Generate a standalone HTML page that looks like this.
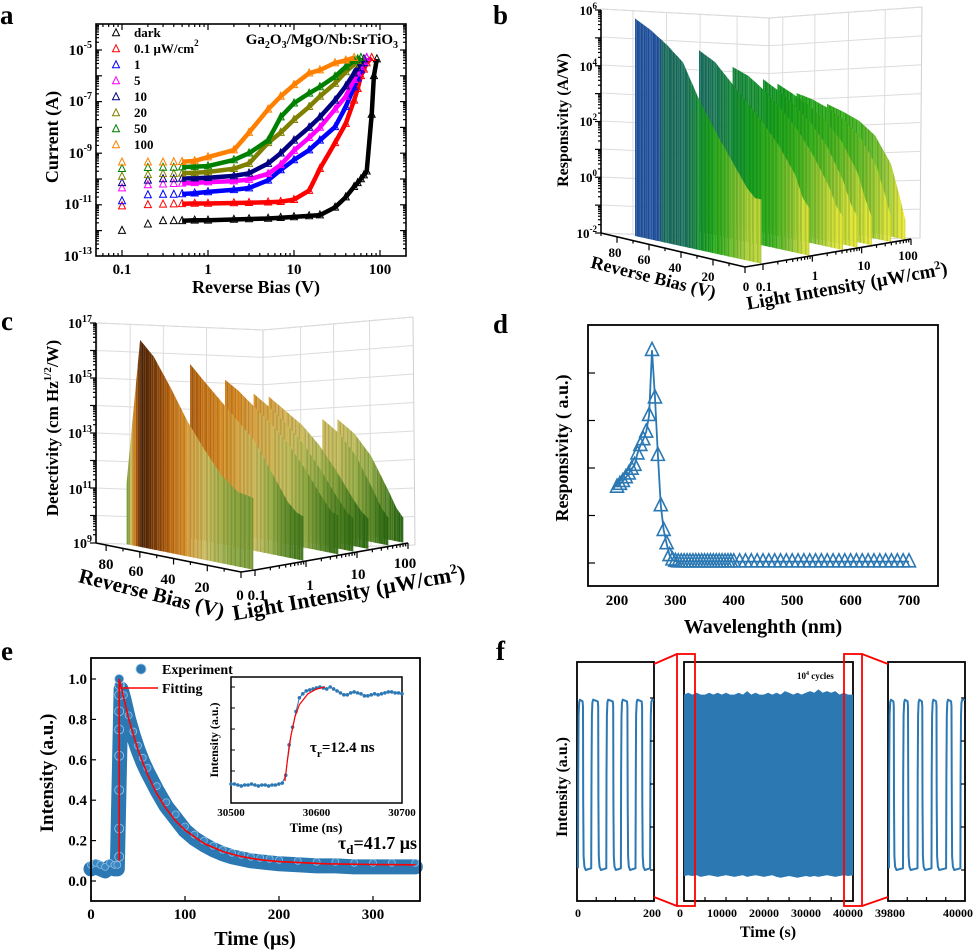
<!DOCTYPE html>
<html><head><meta charset="utf-8"><style>
html,body{margin:0;padding:0;background:#fff;}
svg{display:block;font-family:"Liberation Serif",serif;font-weight:bold;}
</style></head><body>
<svg id="fig" xmlns="http://www.w3.org/2000/svg" width="980" height="951" viewBox="0 0 980 951">
<rect x="0" y="0" width="980" height="951" fill="#fff"/>
<!-- Panel a -->
<g>
<text x="0" y="24" font-size="27">a</text>
<rect x="96" y="24" width="310" height="232" fill="none" stroke="#000" stroke-width="1.6"/>
<g font-size="15" text-anchor="end">
<text x="92" y="55">10<tspan dy="-7" font-size="10">-5</tspan></text>
<text x="92" y="106">10<tspan dy="-7" font-size="10">-7</tspan></text>
<text x="92" y="158">10<tspan dy="-7" font-size="10">-9</tspan></text>
<text x="92" y="209">10<tspan dy="-7" font-size="10">-11</tspan></text>
<text x="92" y="261">10<tspan dy="-7" font-size="10">-13</tspan></text>
</g>
<g font-size="15" text-anchor="middle">
<text x="122" y="274">0.1</text><text x="208" y="274">1</text><text x="294" y="274">10</text><text x="380" y="274">100</text>
</g>
<text transform="translate(58,137) rotate(-90)" text-anchor="middle" font-size="18">Current (A)</text>
<text x="256" y="293" text-anchor="middle" font-size="18">Reverse Bias (V)</text>
<text x="398" y="44" text-anchor="end" font-size="15">Ga<tspan dy="4" font-size="10">2</tspan><tspan dy="-4">O</tspan><tspan dy="4" font-size="10">3</tspan><tspan dy="-4">/MgO/Nb:SrTiO</tspan><tspan dy="4" font-size="10">3</tspan></text>
<g id="legendA" font-size="13"></g>
<g id="plotA"></g>
</g>
<!-- Panel b -->
<g>
<text x="493" y="24" font-size="27">b</text>
<g id="gridB"></g>
<g id="plotB"></g>
<g font-size="13" text-anchor="end">
<text x="597" y="15">10<tspan dy="-6" font-size="9">6</tspan></text>
<text x="597" y="71">10<tspan dy="-6" font-size="9">4</tspan></text>
<text x="597" y="126">10<tspan dy="-6" font-size="9">2</tspan></text>
<text x="597" y="182">10<tspan dy="-6" font-size="9">0</tspan></text>
<text x="597" y="238">10<tspan dy="-6" font-size="9">-2</tspan></text>
</g>
<text transform="translate(568,120) rotate(-90)" text-anchor="middle" font-size="16">Responsivity (A/W)</text>
<g font-size="13" text-anchor="middle">
<text x="615" y="257">80</text><text x="644" y="264">60</text><text x="675" y="272">40</text><text x="708" y="281">20</text><text x="746" y="291">0</text>
</g>
<g font-size="13" text-anchor="middle">
<text x="764" y="291">0.1</text><text x="815" y="280">1</text><text x="864" y="270">10</text><text x="908" y="260">100</text>
</g>
<text transform="translate(652,283) rotate(14)" text-anchor="middle" font-size="18">Reverse Bias (V)</text>
<text transform="translate(848,292) rotate(-10)" text-anchor="middle" font-size="19">Light Intensity (μW/cm<tspan dy="-7" font-size="12">2</tspan><tspan dy="7">)</tspan></text>
</g>
<!-- Panel c -->
<g>
<text x="1" y="330" font-size="27">c</text>
<g id="gridC"></g>
<g id="plotC"></g>
<g font-size="14" text-anchor="end">
<text x="92" y="328">10<tspan dy="-6" font-size="10">17</tspan></text>
<text x="92" y="383">10<tspan dy="-6" font-size="10">15</tspan></text>
<text x="92" y="438">10<tspan dy="-6" font-size="10">13</tspan></text>
<text x="92" y="494">10<tspan dy="-6" font-size="10">11</tspan></text>
<text x="92" y="548">10<tspan dy="-6" font-size="10">9</tspan></text>
</g>
<text transform="translate(58,428) rotate(-90)" text-anchor="middle" font-size="17">Detectivity (cm Hz<tspan dy="-7" font-size="11">1/2</tspan><tspan dy="7">/W)</tspan></text>
<g font-size="15" text-anchor="middle">
<text x="106" y="569">80</text><text x="136" y="576">60</text><text x="168" y="584">40</text><text x="202" y="592">20</text><text x="240" y="600">0</text>
</g>
<g font-size="15" text-anchor="middle">
<text x="257" y="600">0.1</text><text x="310" y="590">1</text><text x="358" y="579">10</text><text x="405" y="568">100</text>
</g>
<text transform="translate(150,600) rotate(14)" text-anchor="middle" font-size="21">Reverse Bias (V)</text>
<text transform="translate(350,600) rotate(-10)" text-anchor="middle" font-size="22">Light Intensity (μW/cm<tspan dy="-8" font-size="14">2</tspan><tspan dy="8">)</tspan></text>
</g>
<!-- Panel d -->
<g>
<text x="493" y="333" font-size="27">d</text>
<rect x="588" y="325" width="350" height="261" fill="none" stroke="#000" stroke-width="1.8"/>
<g id="plotD"></g>
<text transform="translate(568,448) rotate(-90)" text-anchor="middle" font-size="18">Responsivity ( a.u.)</text>
<text x="763" y="633" text-anchor="middle" font-size="20">Wavelenghth (nm)</text>
</g>
<!-- Panel e -->
<g>
<text x="1" y="660" font-size="27">e</text>
<g id="plotE"></g>
<rect x="91" y="658" width="329" height="243" fill="none" stroke="#000" stroke-width="1.8"/>
<text transform="translate(53,773) rotate(-90)" text-anchor="middle" font-size="19">Intensity (a.u.)</text>
<text x="255" y="945" text-anchor="middle" font-size="20">Time (μs)</text>
<text x="162" y="674" font-size="14">Experiment</text>
<text x="162" y="693" font-size="14">Fitting</text>
<text x="338" y="849" font-size="18">τ<tspan dy="5" font-size="13">d</tspan><tspan dy="-5">=41.7 μs</tspan></text>
<text transform="translate(218,740) rotate(-90)" text-anchor="middle" font-size="12">Intensity (a.u.)</text>
<text x="316" y="832" text-anchor="middle" font-size="13">Time (ns)</text>
<text x="310" y="752" font-size="15">τ<tspan dy="5" font-size="11">r</tspan><tspan dy="-5">=12.4 ns</tspan></text>
</g>
<!-- Panel f -->
<g>
<text x="496" y="660" font-size="27">f</text>
<g id="plotF"></g>
<text transform="translate(567,787) rotate(-90)" text-anchor="middle" font-size="16">Intensity (a.u.)</text>
<text x="768" y="937" text-anchor="middle" font-size="16">Time (s)</text>
<text x="797" y="679" font-size="9">10<tspan dy="-4" font-size="6">4</tspan><tspan dy="4"> cycles</tspan></text>
<g font-size="12" text-anchor="middle">
<text x="578" y="917">0</text><text x="652" y="917">200</text><text x="680" y="917">0</text>
<text x="722" y="917">10000</text><text x="764" y="917">20000</text><text x="806" y="917">30000</text><text x="848" y="917">40000</text>
<text x="890" y="917">39800</text><text x="958" y="917">40000</text>
</g>
</g>
</svg>
<script>
// ---------- Panel a data ----------
const aVolts=[0.1,0.2,0.3,0.4,0.5,0.7,1,2,3,5,7,10,15,20,30,40,50,55,60,65,70,80,85,92];
const aLabels=['dark','0.1','1','5','10','20','50','100'];
const aDark=[-12,-11.75,-11.62,-11.62,-11.62,-11.6,-11.6,-11.57,-11.55,-11.53,-11.5,-11.47,-11.43,-11.4,-11.1,-10.7,-10.3,-10.15,-10.0,-9.85,-9.7,-7.5,-6.0,-5.35];
const aI01=[-11.05,-11,-10.98,-10.97,-10.96,-10.95,-10.95,-10.93,-10.92,-10.9,-10.88,-10.8,-10.45,-9.6,-8.6,-7.85,-6.95,-6.5,-6.0,-5.75,-5.5,-5.3,null,null];
const aI1=[-10.85,-10.62,-10.6,-10.6,-10.58,-10.55,-10.5,-10.42,-10.35,-10.05,-9.65,-9.26,-8.88,-8.5,-7.98,-7.2,-6.43,-6.1,-5.78,-5.5,-5.3,null,null,null];
const aI5=[-10.35,-10.23,-10.2,-10.18,-10.17,-10.15,-10.12,-10.08,-10.02,-9.8,-9.45,-8.9,-8.4,-8.0,-7.3,-6.8,-6.15,-5.9,-5.65,-5.45,-5.3,null,null,null];
const aI10=[-10.15,-10.05,-10.0,-10.0,-9.98,-9.97,-9.95,-9.88,-9.78,-9.4,-9.0,-8.5,-8.0,-7.6,-6.95,-6.4,-5.9,-5.7,-5.5,-5.35,null,null,null,null];
const aI20=[-9.9,-9.84,-9.8,-9.8,-9.78,-9.76,-9.73,-9.6,-9.4,-8.6,-8.2,-7.7,-7.2,-6.8,-6.3,-5.85,-5.55,-5.42,-5.3,null,null,null,null,null];
const aI50=[-9.6,-9.56,-9.55,-9.55,-9.54,-9.52,-9.5,-9.26,-9.0,-8.5,-7.6,-7.06,-6.68,-6.43,-6.03,-5.65,-5.42,-5.35,-5.3,null,null,null,null,null];
const aI100=[-9.35,-9.35,-9.35,-9.34,-9.33,-9.3,-9.15,-8.88,-8.2,-7.3,-6.8,-6.35,-5.9,-5.78,-5.5,-5.4,-5.3,null,null,null,null,null,null,null];
const aSeries=[aDark,aI01,aI1,aI5,aI10,aI20,aI50,aI100];
const aColors=['#000000','#ff0000','#0000ff','#ff00ff','#000080','#808000','#008000','#ff8000'];

// ---------- Panel b data (log10 responsivity) ----------
const bBias=[80,70,60,50,40,30,20,10,5,1];
const bIntensity=[0.1,1,5,10,20,50,100];
const bR01=[5.8,5.5,5.1,4.6,3.4,2.4,1.5,0.6,0.3,0.3];
const bR1=[null,4.5,4.2,3.6,3.0,2.4,1.7,0.8,0.0,-0.3];
const bR5=[null,3.7,3.5,3.1,2.6,2.0,1.2,0.2,-0.5,-0.8];
const bR10=[null,null,3.3,3.0,2.6,2.1,1.4,0.3,-0.5,-0.9];
const bR20=[null,null,3.05,2.8,2.5,2.1,1.5,0.5,-0.4,-1.0];
const bR50=[null,null,2.6,2.5,2.3,2.0,1.5,0.6,-0.3,-1.1];
const bR100=[null,null,null,2.25,2.1,1.9,1.5,0.6,-0.4,-1.3];
const bSeries=[bR01,bR1,bR5,bR10,bR20,bR50,bR100];

// ---------- Panel c data (log10 detectivity) ----------
const cBias=[76,68,60,50,40,30,20,10,5,1];
const cIntensity=[0.1,1,5,10,20,50,100];
const cD01=[11.2,16.5,16.0,15.0,13.9,13.0,12.2,11.7,11.65,11.6];
const cD1=[null,15.3,14.8,14.2,13.6,13.0,12.0,11.0,10.7,10.6];
const cD5=[null,14.5,14.2,13.7,13.2,12.6,11.8,10.9,10.5,10.4];
const cD10=[null,null,14.0,13.6,13.1,12.5,11.7,10.8,10.4,10.2];
const cD20=[null,null,13.8,13.4,13.0,12.4,11.6,10.7,10.3,10.1];
const cD50=[null,null,null,null,13.1,12.7,12.0,10.9,10.3,10.0];
const cD100=[null,null,null,null,13.0,12.6,11.9,10.8,10.2,9.9];
const cSeries=[cD01,cD1,cD5,cD10,cD20,cD50,cD100];

// ---------- Panel d data ----------
const dWave=[200,205,210,215,220,225,230,235,240,245,250,255,260,265,270,275,280,285,290,295,300,305,310,315,320,325,330,335,340,345,350,355,360,365,370,375,380,385,390,395,400,410,420,430,440,450,460,470,480,490,500,510,520,530,540,550,560,570,580,590,600,610,620,630,640,650,660,670,680,690,700];
const dResp=[1.6,1.66,1.72,1.8,1.88,1.98,2.06,2.3,2.48,2.6,2.76,3.11,4.48,3.48,2.27,1.21,0.69,0.41,0.16,0.07,0.04,0.03,0.03,0.03,0.03,0.03,0.03,0.03,0.03,0.03,0.03,0.03,0.03,0.03,0.03,0.03,0.03,0.03,0.03,0.03,0.03,0.03,0.03,0.03,0.03,0.03,0.03,0.03,0.03,0.03,0.03,0.03,0.03,0.03,0.03,0.03,0.03,0.03,0.03,0.03,0.03,0.03,0.03,0.03,0.03,0.03,0.03,0.03,0.03,0.03,0.03];
const dTicks=[200,300,400,500,600,700];

// ---------- Panel e data ----------
const eTime=[0,5,10,15,20,25,28,32,35,40,45,50,55,60,70,80,90,100,110,120,130,140,150,160,170,180,190,200,220,240,260,280,300,320,345];
const eInt=[0.06,0.07,0.06,0.05,0.07,0.06,0.06,0.95,0.9,0.8,0.72,0.65,0.59,0.54,0.45,0.37,0.31,0.25,0.21,0.18,0.155,0.135,0.12,0.11,0.1,0.095,0.09,0.085,0.08,0.075,0.075,0.07,0.07,0.07,0.07];
const eRiseInt=[0.12,0.26,0.45,0.62,0.75,0.84,0.92,0.97,1.0];
const eRiseTime=30;
const eFitTime=[30,30,40,50,60,70,80,90,100,120,140,160,180,200,250,300,345];
const eFitInt=[0.1,1.0,0.804,0.649,0.528,0.432,0.358,0.298,0.252,0.186,0.146,0.121,0.105,0.096,0.085,0.0815,0.08];
const eTicksX=[0,100,200,300];
const eTicksY=[0,0.2,0.4,0.6,0.8,1.0];
const insetTime=[30500,30504,30508,30512,30516,30520,30524,30528,30532,30536,30540,30544,30548,30552,30556,30560,30564,30568,30572,30576,30580,30584,30588,30592,30596,30600,30604,30608,30612,30616,30620,30624,30628,30632,30636,30640,30644,30648,30652,30656,30660,30664,30668,30672,30676,30680,30684,30688,30692,30696,30700];
const insetInt=[0.01,0.01,0.0,-0.01,0.0,0.0,0.01,0.0,-0.01,0.0,0.0,-0.01,0.0,0.0,0.01,0.02,0.1,0.41,0.59,0.75,0.89,0.93,0.96,0.97,0.98,0.99,1.0,0.99,0.98,1.0,0.98,0.96,0.94,0.92,0.92,0.94,0.95,0.94,0.93,0.91,0.91,0.92,0.93,0.92,0.93,0.94,0.95,0.95,0.94,0.94,0.93];
const insetFitTime=[30563,30566,30570,30575,30580,30590,30600,30610];
const insetFitInt=[0.04,0.25,0.5,0.7,0.82,0.93,0.98,1.0];
const insetTicks=[30500,30600,30700];

// ---------- Panel f data ----------
const fLeftRise=[2.6,37,76,114,152,190];
const fLeftFall=[15.6,55,94,131,169];
const fRightRise=[39802.6,39839,39876.5,39913,39951,39988];
const fRightFall=[39815,39852,39889,39926,39965];
const fHigh=0.99, fLow=0.0;
const fMidTime=[0,1000,2000,3000,4000,5000,6000,7000,8000,9000,10000,11000,12000,13000,14000,15000,16000,17000,18000,19000,20000,21000,22000,23000,24000,25000,26000,27000,28000,29000,30000,31000,32000,33000,34000,35000,36000,37000,38000,39000,40200];
const fMidHi=[1.02,1.03,1.02,1.03,1.02,1.02,1.03,1.02,1.03,1.02,1.03,1.02,1.02,1.03,1.02,1.04,1.02,1.03,1.02,1.02,1.03,1.02,1.03,1.02,1.04,1.03,1.02,1.03,1.02,1.03,1.04,1.03,1.05,1.03,1.04,1.03,1.04,1.02,1.03,1.02,1.02];
const fMidLo=[-0.035,-0.03,-0.035,-0.03,-0.04,-0.035,-0.03,-0.035,-0.04,-0.035,-0.03,-0.035,-0.04,-0.035,-0.03,-0.04,-0.035,-0.03,-0.035,-0.04,-0.035,-0.03,-0.04,-0.045,-0.04,-0.035,-0.04,-0.045,-0.04,-0.035,-0.04,-0.035,-0.04,-0.035,-0.03,-0.035,-0.04,-0.035,-0.03,-0.035,-0.03];

const NS='http://www.w3.org/2000/svg';
function mk(tag,attrs,parent){const e=document.createElementNS(NS,tag);for(const k in attrs)e.setAttribute(k,attrs[k]);parent.appendChild(e);return e;}
const $=id=>document.getElementById(id);
const L10=Math.log10;
function hex(h){return [parseInt(h.slice(1,3),16),parseInt(h.slice(3,5),16),parseInt(h.slice(5,7),16)];}
function cmap(stops,v,dim){
  let c;
  if(v>=stops[0][0]) c=hex(stops[0][1]);
  else if(v<=stops[stops.length-1][0]) c=hex(stops[stops.length-1][1]);
  else{for(let i=0;i<stops.length-1;i++){const a=stops[i],b=stops[i+1];if(v<=a[0]&&v>=b[0]){const t=(a[0]-v)/(a[0]-b[0]);const ca=hex(a[1]),cb=hex(b[1]);c=ca.map((x,k)=>x+(cb[k]-x)*t);break;}}}
  return 'rgb('+c.map(x=>Math.round(x*dim)).join(',')+')';
}

// ===== Panel a =====
(function(){
  const g=$('plotA');
  const xA=v=>122+86*(L10(v)+1);
  const yA=e=>50+(-5-e)*25.8;
  for(let dec=-2;dec<=2;dec++){for(let m=1;m<10;m++){const v=m*Math.pow(10,dec);const x=xA(v);if(x<97||x>405)continue;const len=m===1?6:3;
    const t1=mk('line',{x1:x,y1:256,x2:x,y2:256-len,stroke:'#000','stroke-width':1.2},g);
    
    
    const t2=mk('line',{x1:x,y1:24,x2:x,y2:24+len,stroke:'#000','stroke-width':1.2},g);
    
    }}
  for(let dec=-13;dec<=-5;dec++){for(let m=1;m<10;m++){const e=dec+L10(m);const y=yA(e);if(y<25||y>256)continue;const len=m===1?6:3;
    const t1=mk('line',{x1:96,y1:y,x2:96+len,y2:y,stroke:'#000','stroke-width':1.2},g);
    
    
    const t2=mk('line',{x1:406,y1:y,x2:406-len,y2:y,stroke:'#000','stroke-width':1.2},g);
    
    }}
  const tri=(x,y,s)=>`${x},${y-s*0.6} ${x-s/2},${y+s*0.4} ${x+s/2},${y+s*0.4}`;
  aSeries.forEach((ser,si)=>{
    const col=aColors[si];
    const pts=[];
    ser.forEach((e,i)=>{if(e!==null&&i>=4)pts.push(xA(aVolts[i]).toFixed(1)+','+yA(e).toFixed(1));});
    const pl=mk('polyline',{points:pts.join(' '),fill:'none',stroke:col,'stroke-width':4.5,'stroke-linejoin':'round'},g);
    
    
    ser.forEach((e,i)=>{if(e===null)return;
      const m=mk('polygon',{points:tri(xA(aVolts[i]),yA(e),7),fill:'none',stroke:col,'stroke-width':1},g);
      
      });
  });
  const lg=$('legendA');
  const labs=['dark','0.1  μW/cm','1','5','10','20','50','100'];
  labs.forEach((lb,i)=>{const y=33+i*16;
    const m=mk('polygon',{points:tri(116,y,7),fill:'none',stroke:aColors[i],'stroke-width':1},lg);
    
    
    const t=mk('text',{x:134,y:y+4,'xml:space':'preserve'},lg);
    
    
    t.textContent=lb;
    if(i===1){const sp=mk('tspan',{dy:-7,'font-size':9},t);sp.textContent='2';}
  });
})();

// ===== 3D waterfall helper =====
function waterfall(opts){
  const {g,biases,series,intens,X,Yb,H,stops}=opts;
  for(let si=series.length-1;si>=0;si--){
    const d=L10(intens[si])+1;const ser=series[si];
    for(let i=0;i<biases.length-1;i++){
      const v0=ser[i],v1=ser[i+1];if(v0===null||v1===null)continue;
      const b0=biases[i],b1=biases[i+1];
      let k=0;
      for(let b=b0;b>b1;b-=1.1){
        const bb=Math.max(b-1.1,b1);
        const va=v0+(v1-v0)*(b0-b)/(b0-b1), vb=v0+(v1-v0)*(b0-bb)/(b0-b1);
        const xa=X(b,d),xb=X(bb,d),ya=Yb(b,d),yb=Yb(bb,d);
        const p=mk('polygon',{points:`${xa.toFixed(1)},${ya.toFixed(1)} ${xa.toFixed(1)},${(ya-H(va)).toFixed(1)} ${xb.toFixed(1)},${(yb-H(vb)).toFixed(1)} ${xb.toFixed(1)},${yb.toFixed(1)}`,fill:cmap(stops,(va+vb)/2,(k++%2)?0.88:1)},g);
        
        
      }
    }
  }
}
function wall(g,pts,vert,horiz,name){
  const w=mk('polygon',{points:pts.map(p=>p.join(',')).join(' '),fill:'#fff',stroke:'#cfcfcf','stroke-width':1},g);
  
  
  const [TL,TR,BR,BL]=pts;
  vert.forEach(t=>{const l=mk('line',{x1:TL[0]+(TR[0]-TL[0])*t,y1:TL[1]+(TR[1]-TL[1])*t,x2:BL[0]+(BR[0]-BL[0])*t,y2:BL[1]+(BR[1]-BL[1])*t,stroke:'#dcdcdc','stroke-width':1},g);
    
    });
  horiz.forEach(t=>{const l=mk('line',{x1:TL[0]+(BL[0]-TL[0])*t,y1:TL[1]+(BL[1]-TL[1])*t,x2:TR[0]+(BR[0]-TR[0])*t,y2:TR[1]+(BR[1]-TR[1])*t,stroke:'#dcdcdc','stroke-width':1},g);
    
    });
}
function axis3d(g,x0,y0,x1,y1,ticks,name,dy){
  const a=mk('line',{x1:x0,y1:y0,x2:x1,y2:y1,stroke:'#000','stroke-width':1.6},g);
  
  
  ticks.forEach(([t,len])=>{const x=x0+(x1-x0)*t,y=y0+(y1-y0)*t;
    const l=mk('line',{x1:x,y1:y,x2:x,y2:y+len*dy,stroke:'#000','stroke-width':1.2},g);
    
    });
}
function logTicks(nDec){const t=[];for(let d=0;d<nDec;d++)for(let m=1;m<10;m++)t.push([(d+L10(m))/nDec,m===1?6:3]);t.push([1,6]);return t;}
function zAxis(g,x,yTop,yBot,nDec,name){
  const a=mk('line',{x1:x,y1:yTop,x2:x,y2:yBot,stroke:'#000','stroke-width':1.6},g);
  
  
  logTicks(nDec).forEach(([t,len])=>{const y=yBot-(yBot-yTop)*t;
    const l=mk('line',{x1:x,y1:y,x2:x-len,y2:y,stroke:'#000','stroke-width':1.2},g);
    
    });
}

// ===== Panel b =====
(function(){
  const gg=$('gridB');
  const hz=[];for(let i=0;i<=8;i++)hz.push(i/8);
  wall(gg,[[601,9],[769,18],[769,240],[601,233]],[0.19,0.39,0.59,0.81],hz,'left-wall-b');
  wall(gg,[[769,18],[922,7],[920,238],[769,240]],[0.09,0.3,0.52,0.76],hz,'right-wall-b');
  const g=$('plotB');
  waterfall({g,biases:bBias,series:bSeries,intens:bIntensity,
    X:(b,d)=>763+48*d-1.6*b, Yb:(b,d)=>264-8*d-0.35*b, H:v=>(v+2)*27.9,
    stops:[[6,'#2456a4'],[5.3,'#2456a4'],[5.2,'#1c7060'],[4.4,'#1c7560'],[3.6,'#168c3c'],[2.8,'#18a41c'],[2,'#3cb41e'],[1,'#90c834'],[0,'#cfe03c'],[-1,'#eeee3a'],[-2,'#ffff30']]});
  zAxis(g,601,10,233,8,'z-axis-b');
  const bt=[];for(let v=0;v<=90;v+=10)bt.push([v/90,v%20===0?6:3]);
  axis3d(g,745,267,601,233,bt,'bias-axis-b',1);
  axis3d(g,763,264,911,239,logTicks(3),'intensity-axis-b',1);
  const ex=mk('line',{x1:745,y1:267,x2:763,y2:264,stroke:'#000','stroke-width':1.6},g);
  
  
})();

// ===== Panel c =====
(function(){
  const gg=$('gridC');
  const hz=[];for(let i=0;i<=8;i++)hz.push(i/8);
  wall(gg,[[97,323],[263,330],[263,549],[96,543]],[0.2,0.4,0.66],hz,'left-wall-c');
  wall(gg,[[263,330],[413,317],[415,545],[263,549]],[0.25,0.47,0.71],hz,'right-wall-c');
  const g=$('plotC');
  waterfall({g,biases:cBias,series:cSeries,intens:cIntensity,
    X:(b,d)=>255+50*d-1.69*b, Yb:(b,d)=>570-9*d-0.34*b, H:v=>(v-9)*27.6,
    stops:[[17,'#3a1800'],[16.3,'#5a2a05'],[15.8,'#8a4408'],[15,'#c06a10'],[14.2,'#d88a20'],[13.5,'#d8b050'],[12.8,'#c8c060'],[12,'#98b048'],[11,'#5a8a28'],[10,'#2a6a10'],[9,'#1a5000']]});
  zAxis(g,96,323,543,8,'z-axis-c');
  const bt=[];for(let v=0;v<=80;v+=10)bt.push([v/86,v%20===0?6:3]);
  axis3d(g,241,572,96,543,bt,'bias-axis-c',1);
  axis3d(g,255,570,408,543,logTicks(3),'intensity-axis-c',1);
  const ex=mk('line',{x1:241,y1:572,x2:255,y2:570,stroke:'#000','stroke-width':1.6},g);
  
  
})();

// ===== Panel d =====
(function(){
  const g=$('plotD');
  const xD=w=>617+(w-200)*0.584, yD=v=>563-v*47.5;
  [0,1,2,3,4].forEach(v=>{const l=mk('line',{x1:588,y1:yD(v),x2:595,y2:yD(v),stroke:'#000','stroke-width':1.2},g);
    
    });
  dTicks.forEach(w=>{const t=mk('text',{x:xD(w),y:605,'text-anchor':'middle','font-size':15},g);
    
    
    t.textContent=w;});
  const pl=mk('polyline',{points:dWave.map((w,i)=>xD(w).toFixed(1)+','+yD(dResp[i]).toFixed(1)).join(' '),fill:'none',stroke:'#2b78b3','stroke-width':1.8},g);
  
  
  dWave.forEach((w,i)=>{const x=xD(w),y=yD(dResp[i]),s=13;
    const m=mk('polygon',{points:`${x},${y-s*0.6} ${x-s/2},${y+s*0.4} ${x+s/2},${y+s*0.4}`,fill:'none',stroke:'#2b78b3','stroke-width':1.6},g);
    
    });
})();

// ===== Panel e =====
(function(){
  const g=$('plotE');
  const xE=t=>91+t*0.94, yE=v=>881-v*202;
  eTicksX.forEach(t=>{const l=mk('line',{x1:xE(t),y1:901,x2:xE(t),y2:896,stroke:'#000','stroke-width':1.2},g);
    
    
    const tx=mk('text',{x:xE(t),y:919,'text-anchor':'middle','font-size':15},g);
    
    
    tx.textContent=t;});
  eTicksY.forEach(v=>{const l=mk('line',{x1:91,y1:yE(v),x2:96,y2:yE(v),stroke:'#000','stroke-width':1.2},g);
    
    
    const tx=mk('text',{x:87,y:yE(v)+5,'text-anchor':'end','font-size':15},g);
    
    
    tx.textContent=v.toFixed(1);});
  const band=mk('polyline',{points:eTime.map((t,i)=>xE(t).toFixed(1)+','+yE(eInt[i]).toFixed(1)).join(' '),fill:'none',stroke:'#2b78b3','stroke-width':15,'stroke-linejoin':'round','stroke-linecap':'round'},g);
  
  
  eTime.forEach((t,i)=>{const c=mk('circle',{cx:xE(t),cy:yE(eInt[i])-4,r:3.5,fill:'#3a86c2',stroke:'#8dbde3','stroke-width':0.8},g);
    
    });
  eRiseInt.forEach(v=>{const c=mk('circle',{cx:xE(eRiseTime),cy:yE(v),r:4.5,fill:'#2b78b3',stroke:'#9cc6e6','stroke-width':0.8},g);
    
    });
  const fit=mk('polyline',{points:eFitTime.map((t,i)=>xE(t).toFixed(1)+','+yE(eFitInt[i]).toFixed(1)).join(' '),fill:'none',stroke:'#ff0000','stroke-width':1.6},g);
  
  
  const ld=mk('circle',{cx:141,cy:669,r:5,fill:'#2b78b3',stroke:'#9cc6e6','stroke-width':0.8},g);
  
  
  const ll=mk('line',{x1:122,y1:688,x2:158,y2:688,stroke:'#ff0000','stroke-width':1.6},g);
  
  
  const xI=t=>231+(t-30500)*0.855, yI=v=>785-v*98;
  const box=mk('rect',{x:231,y:677,width:171,height:126,fill:'#fff',stroke:'#000','stroke-width':1.5},g);
  
  
  [1,0.786,0.571,0.357,0.143].forEach(v=>{const l=mk('line',{x1:231,y1:yI(v),x2:235,y2:yI(v),stroke:'#000','stroke-width':1},g);
    
    });
  insetTicks.forEach(t=>{const tx=mk('text',{x:xI(t),y:816,'text-anchor':'middle','font-size':11},g);
    
    
    tx.textContent=t;});
  const il=mk('polyline',{points:insetTime.map((t,i)=>xI(t).toFixed(1)+','+yI(insetInt[i]).toFixed(1)).join(' '),fill:'none',stroke:'#2b78b3','stroke-width':1},g);
  
  
  insetTime.forEach((t,i)=>{const c=mk('circle',{cx:xI(t),cy:yI(insetInt[i]),r:1.8,fill:'#2b78b3'},g);
    
    });
  const ifit=mk('polyline',{points:insetFitTime.map((t,i)=>xI(t).toFixed(1)+','+yI(insetFitInt[i]).toFixed(1)).join(' '),fill:'none',stroke:'#ff0000','stroke-width':1.2},g);
  
  
})();

// ===== Panel f =====
(function(){
  const g=$('plotF');
  const yF=v=>870-v*172;
  const xL=t=>577+t*77/200, xR=t=>888+(t-39800)*77/200, xM=t=>684+t*169/40200;
  function wave(rises,falls,X,t0,t1){
    const p=[];
    rises.forEach((r,i)=>{
      p.push([r,fLow+0.01]);p.push([r+0.6,0.55]);p.push([r+1.6,0.9]);p.push([r+3,0.975]);p.push([r+5,fHigh]);
      const f=falls[i];
      if(f!==undefined){p.push([f-1,0.98]);p.push([f,0.95]);p.push([f+0.6,0.4]);p.push([f+1.6,0.08]);p.push([f+3.5,0.02]);p.push([f+7,0.0]);}
      else p.push([t1,fHigh]);
    });
    return p.filter(q=>q[0]>=t0&&q[0]<=t1).map(q=>X(q[0]).toFixed(1)+','+yF(q[1]).toFixed(1)).join(' ');
  }
  [[577,654],[684,853],[888,965]].forEach((b,i)=>{
    const r=mk('rect',{x:b[0],y:662,width:b[1]-b[0],height:239,fill:'none',stroke:'#000','stroke-width':1.8},g);
    
    
  });
  const lw=mk('polyline',{points:wave(fLeftRise,fLeftFall,xL,0,200),fill:'none',stroke:'#2b78b3','stroke-width':2,'stroke-linejoin':'round'},g);
  
  
  const rw=mk('polyline',{points:wave(fRightRise,fRightFall,xR,39800,40000),fill:'none',stroke:'#2b78b3','stroke-width':2,'stroke-linejoin':'round'},g);
  
  
  const mp=[];fMidTime.forEach((t,i)=>mp.push(xM(t).toFixed(1)+','+yF(fMidHi[i]).toFixed(1)));
  for(let i=fMidTime.length-1;i>=0;i--)mp.push(xM(fMidTime[i]).toFixed(1)+','+yF(fMidLo[i]).toFixed(1));
  const mid=mk('polygon',{points:mp.join(' '),fill:'#2b78b3'},g);
  
  
  [0,0.25,0.5,0.75,1].forEach(v=>{[654,965].forEach(x=>{const l=mk('line',{x1:x,y1:yF(v),x2:x-4,y2:yF(v),stroke:'#000','stroke-width':1.2},g);
    
    });});
  [50,100,150].forEach(t=>{const l=mk('line',{x1:xL(t),y1:901,x2:xL(t),y2:897,stroke:'#000','stroke-width':1.2},g);
    
    });
  for(let t=5000;t<40000;t+=5000){const l=mk('line',{x1:xM(t),y1:901,x2:xM(t),y2:897,stroke:'#000','stroke-width':1.2},g);
    
    }
  [39850,39900,39950].forEach(t=>{const l=mk('line',{x1:xR(t),y1:901,x2:xR(t),y2:897,stroke:'#000','stroke-width':1.2},g);
    
    });
  [[677,695],[844,862]].forEach((b,i)=>{const r=mk('rect',{x:b[0],y:654,width:b[1]-b[0],height:252,fill:'none',stroke:'#ff0000','stroke-width':1.8},g);
    
    });
  [[654,664,677,654],[654,897,677,906],[862,654,888,664],[862,906,888,897]].forEach(c=>{const l=mk('line',{x1:c[0],y1:c[1],x2:c[2],y2:c[3],stroke:'#ff0000','stroke-width':1.8},g);
    
    });
})();
</script>
</body></html>
